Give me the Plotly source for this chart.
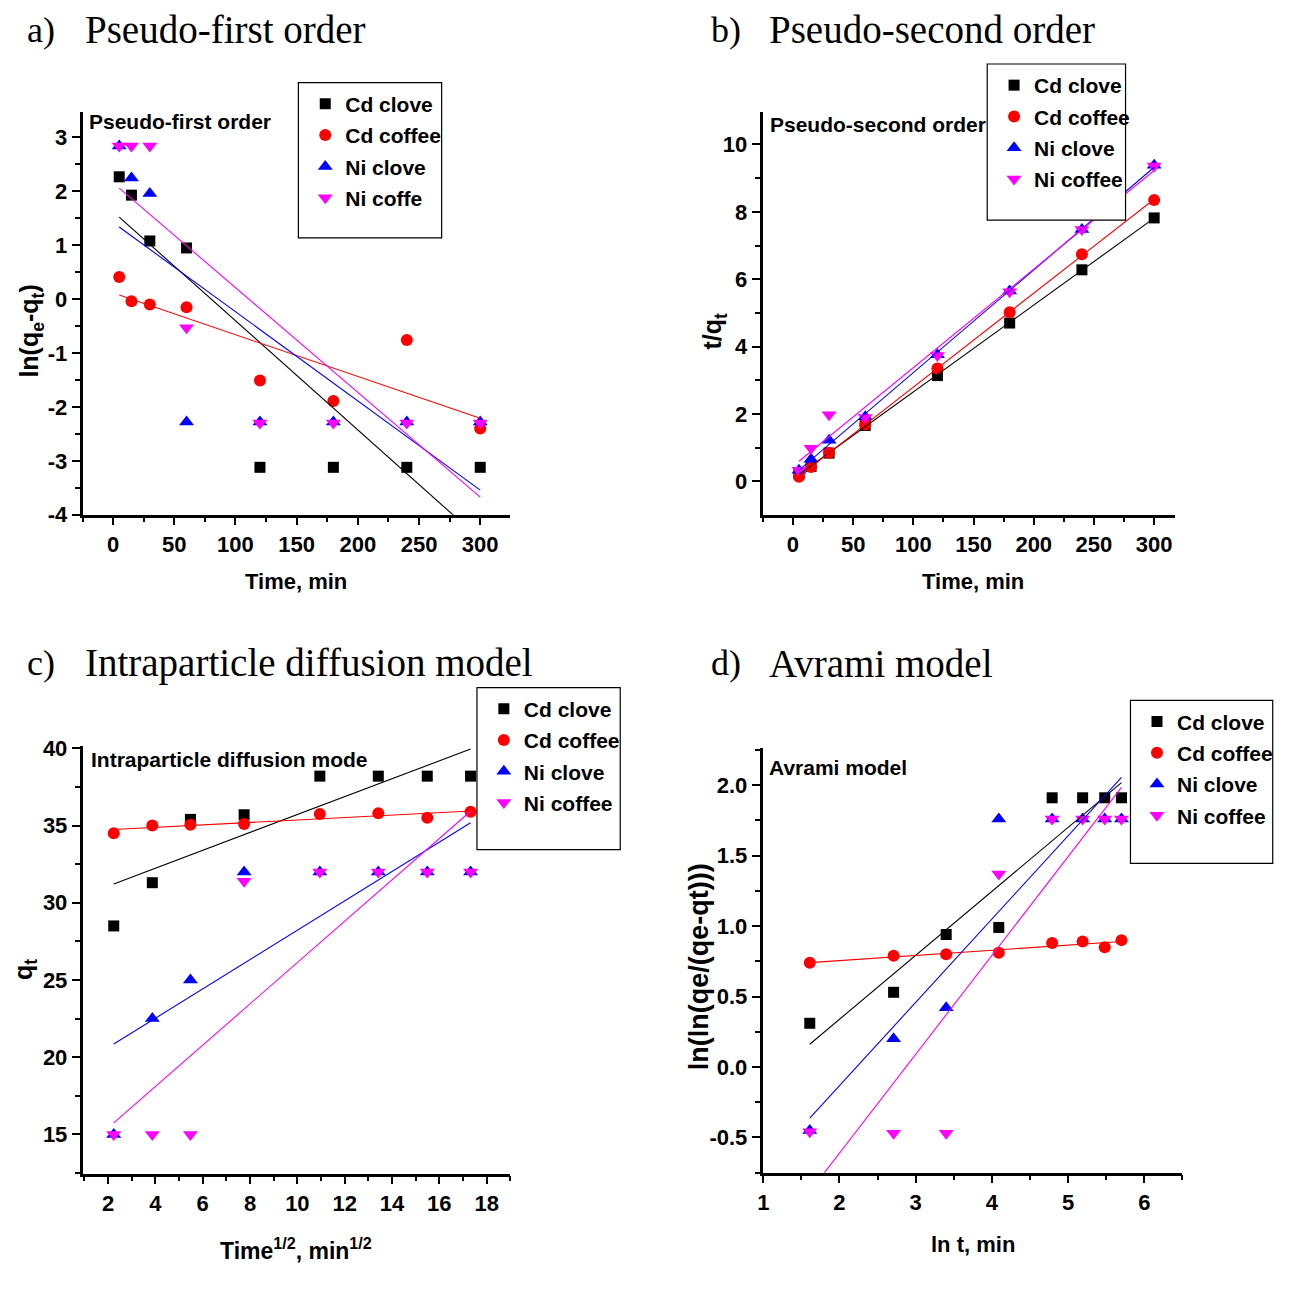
import numpy as np
import plotly.graph_objects as go

# page is 1294x1293; the body keeps an 8px margin, so the figure is 16px smaller
OFF = 8
FW, FH = 1294 - 2 * OFF, 1293 - 2 * OFF

# ---------------- data ----------------
series_names = ["Cd clove", "Cd coffee", "Ni clove", "Ni coffee"]
series_names_a = ["Cd clove", "Cd coffee", "Ni clove", "Ni coffe"]
colors = ["#000000", "#ff0000", "#0000ff", "#ff00ff"]
symbols = ["square", "circle", "triangle-up", "triangle-down"]

time_min = [5, 15, 30, 60, 120, 180, 240, 300]
sqrt_time = [2.24, 3.87, 5.48, 7.75, 10.95, 13.42, 15.49, 17.32]
ln_time = [1.61, 2.71, 3.40, 4.09, 4.79, 5.19, 5.48, 5.70]

# a) Pseudo-first order: ln(qe-qt)
pfo_cd_clove = [2.27, 1.93, 1.08, 0.95, -3.12, -3.12, -3.12, -3.12]
pfo_cd_coffee = [0.41, -0.04, -0.10, -0.15, -1.51, -1.89, -0.76, -2.40]
pfo_ni_clove = [2.84, 2.25, 1.96, -2.28, -2.28, -2.28, -2.28, -2.28]
pfo_ni_coffee = [2.84, 2.84, 2.84, -0.53, -2.30, -2.30, -2.30, -2.30]

# b) Pseudo-second order: t/qt
pso_cd_clove = [0.23, 0.44, 0.84, 1.66, 3.14, 4.70, 6.28, 7.82]
pso_cd_coffee = [0.14, 0.43, 0.85, 1.69, 3.35, 5.02, 6.74, 8.35]
pso_ni_clove = [0.33, 0.66, 1.22, 1.92, 3.76, 5.65, 7.48, 9.38]
pso_ni_coffee = [0.33, 0.98, 1.98, 1.90, 3.74, 5.63, 7.48, 9.36]

# c) Intraparticle diffusion: qt
ipd_cd_clove = [28.5, 31.3, 35.4, 35.7, 38.2, 38.2, 38.2, 38.2]
ipd_cd_coffee = [34.5, 35.0, 35.05, 35.1, 35.75, 35.8, 35.5, 35.9]
ipd_ni_clove = [15.0, 22.5, 25.0, 32.0, 32.0, 32.0, 32.0, 32.0]
ipd_ni_coffee = [15.0, 15.0, 15.0, 31.4, 32.0, 32.0, 32.0, 32.0]

# d) Avrami: ln(ln(qe/(qe-qt)))
avr_cd_clove = [0.31, 0.53, 0.94, 0.99, 1.91, 1.91, 1.91, 1.91]
avr_cd_coffee = [0.74, 0.79, 0.80, 0.81, 0.88, 0.89, 0.85, 0.90]
avr_ni_clove = [-0.45, 0.20, 0.42, 1.76, 1.76, 1.76, 1.76, 1.76]
avr_ni_coffee = [-0.46, -0.47, -0.47, 1.37, 1.76, 1.76, 1.76, 1.76]

# y tick labels (ASCII hyphen minus as in the reference)
yticks_a = [-4, -3, -2, -1, 0, 1, 2, 3]
yticks_b = [0, 2, 4, 6, 8, 10]
yticks_c = [15, 20, 25, 30, 35, 40]
yticks_d = [-0.5, 0.0, 0.5, 1.0, 1.5, 2.0]
ylabels_a = ["-4", "-3", "-2", "-1", "0", "1", "2", "3"]
ylabels_b = ["0", "2", "4", "6", "8", "10"]
ylabels_c = ["15", "20", "25", "30", "35", "40"]
ylabels_d = ["-0.5", "0.0", "0.5", "1.0", "1.5", "2.0"]

panels = [
    dict(x=time_min, ys=[pfo_cd_clove, pfo_cd_coffee, pfo_ni_clove, pfo_ni_coffee], names=series_names_a,
         yt=yticks_a, yl=ylabels_a),
    dict(x=time_min, ys=[pso_cd_clove, pso_cd_coffee, pso_ni_clove, pso_ni_coffee], names=series_names,
         yt=yticks_b, yl=ylabels_b),
    dict(x=sqrt_time, ys=[ipd_cd_clove, ipd_cd_coffee, ipd_ni_clove, ipd_ni_coffee], names=series_names,
         yt=yticks_c, yl=ylabels_c),
    dict(x=ln_time, ys=[avr_cd_clove, avr_cd_coffee, avr_ni_clove, avr_ni_coffee], names=series_names,
         yt=yticks_d, yl=ylabels_d),
]

# ---------------- helpers (page pixel -> paper fraction) ----------------
def fx(p):
    return (p - OFF) / FW

def fy(p):
    return 1 - (p - OFF) / FH

SANS = "Liberation Sans Narrow, Arial Narrow, Liberation Sans, Arial, sans-serif"
SERIF = "Liberation Serif, Times New Roman, serif"

fig = go.Figure()

sizes = [11, 12, 13, 13]
for i, pnl in enumerate(panels):
    ax = "" if i == 0 else str(i + 1)
    leg = "legend" if i == 0 else "legend" + str(i + 1)
    xs = np.array(pnl["x"], dtype=float)
    for k in range(4):
        fig.add_trace(go.Scatter(
            x=pnl["x"], y=pnl["ys"][k], mode="markers", name=pnl["names"][k],
            marker=dict(symbol=symbols[k], color=colors[k], size=sizes[k], line=dict(width=0)),
            xaxis="x" + ax, yaxis="y" + ax, legend=leg, legendgroup="p%d_%d" % (i, k),
            cliponaxis=False,
        ))
    for k in range(4):
        ys = np.array(pnl["ys"][k], dtype=float)
        m, b = np.polyfit(xs, ys, 1)
        xl = [xs[0], xs[-1]]
        fig.add_trace(go.Scatter(
            x=xl, y=[m * v + b for v in xl], mode="lines",
            line=dict(color=colors[k], width=1.1), showlegend=False,
            xaxis="x" + ax, yaxis="y" + ax, hoverinfo="skip",
        ))

tickfont = dict(family=SANS, size=22, color="black", weight="bold")

def axis_common():
    return dict(showline=True, linecolor="black", linewidth=2.5, ticks="outside",
                ticklen=8, tickwidth=2, tickcolor="black", showgrid=False, zeroline=False,
                tickfont=tickfont, mirror=False, fixedrange=True)

# domains from page pixel positions
dom = [
    ((87, 523), (112, 522)),
    ((780, 1200), (112, 522)),
    ((87, 523), (758, 1193)),
    ((780, 1208), (760, 1192)),
]
xranges = [[-25, 324.6], [-25.3, 317], [0.92, 19.0], [0.99, 6.5]]
yranges = [[-4, 3.47], [-0.99, 10.96], [12.46, 40.12], [-0.75, 2.26]]
xdt = [(50, 25, 0), (50, 25, 0), (2, 1, 2), (1, 0.5, 1)]
yminor = [(0.5, -4), (1, 0), (2.5, 15), (0.25, -0.5)]

layout = dict(width=FW, height=FH, margin=dict(l=0, r=0, t=0, b=0),
              paper_bgcolor="white", plot_bgcolor="white", showlegend=True)
for i in range(4):
    ax = "" if i == 0 else str(i + 1)
    (x0, x1), (y0, y1) = dom[i]
    xa = axis_common()
    xa.update(domain=[fx(x0), fx(x1)], range=xranges[i], anchor="y" + ax,
              tick0=xdt[i][2], dtick=xdt[i][0],
              minor=dict(dtick=xdt[i][1], tick0=xdt[i][2], ticks="outside", ticklen=5,
                         tickwidth=2, tickcolor="black"))
    ya = axis_common()
    ya.update(domain=[fy(y1), fy(y0)], range=yranges[i], anchor="x" + ax,
              tickmode="array", tickvals=panels[i]["yt"], ticktext=panels[i]["yl"],
              minor=dict(dtick=yminor[i][0], tick0=yminor[i][1], ticks="outside", ticklen=5,
                         tickwidth=2, tickcolor="black"))
    layout["xaxis" + ax] = xa
    layout["yaxis" + ax] = ya

# legend boxes (page pixels): left, top, right, bottom
legbox = [(307, 82, 453, 240), (1009, 63, 1150, 222), (489, 698, 635, 863), (1155, 711, 1300, 877)]
shapes = []
for i in range(4):
    leg = "legend" if i == 0 else "legend" + str(i + 1)
    l, t, r, btm = legbox[i]
    shapes.append(dict(type="rect", xref="paper", yref="paper", layer="above",
                       x0=fx(l), x1=fx(r), y0=fy(btm), y1=fy(t),
                       line=dict(color="black", width=1.2), fillcolor="white"))
    layout[leg] = dict(x=fx(l + 7), y=fy(t + 1), xanchor="left", yanchor="top",
                       borderwidth=0, bgcolor="rgba(0,0,0,0)",
                       font=dict(family=SANS, size=21, color="black", weight="bold"),
                       itemwidth=30, tracegroupgap=1)
layout["shapes"] = shapes

fig.update_layout(**layout)

annotations = []
def ann(text, x, y, size, family, xanchor="left", yanchor="middle", angle=0, bold=False):
    annotations.append(dict(text=text, x=fx(x), y=fy(y), xref="paper", yref="paper",
                            xanchor=xanchor, yanchor=yanchor, showarrow=False, textangle=angle,
                            font=dict(family=family, size=size, color="black",
                                      weight="bold" if bold else "normal")))

# panel titles
for lbl, ttl, lx, tx, yy in [("a)", "Pseudo-first order", 28, 88, 28),
                             ("b)", "Pseudo-second order", 725, 785, 28),
                             ("c)", "Intraparticle diffusion model", 28, 88, 673),
                             ("d)", "Avrami model", 725, 785, 673)]:
    ann(lbl, lx, yy, 36, SERIF)
    ann(ttl, tx, yy, 39, SERIF)

# inner labels
ann("Pseudo-first order", 92, 122, 21, SANS, bold=True)
ann("Pseudo-second order", 786, 125, 21, SANS, bold=True)
ann("Intraparticle diffusion mode", 94, 771, 21, SANS, bold=True)
ann("Avrami model", 785, 779, 21, SANS, bold=True)

# axis titles
ann("Time, min", 305, 590, 22, SANS, xanchor="center", bold=True)
ann("Time, min", 995, 590, 22, SANS, xanchor="center", bold=True)
ann("Time<sup>1/2</sup>, min<sup>1/2</sup>", 305, 1270, 23, SANS, xanchor="center", bold=True)
ann("ln t, min", 995, 1265, 22, SANS, xanchor="center", bold=True)
ann("ln(q<sub>e</sub>-q<sub>t</sub>)", 35, 335, 25, SANS, xanchor="center", angle=-90, bold=True)
ann("t/q<sub>t</sub>", 731, 335, 25, SANS, xanchor="center", angle=-90, bold=True)
ann("q<sub>t</sub>", 29, 985, 25, SANS, xanchor="center", angle=-90, bold=True)
ann("ln(ln(qe/(qe-qt)))", 716, 982, 27, SANS, xanchor="center", angle=-90, bold=True)

fig.update_layout(annotations=annotations)
fig.write_html("out.html")
